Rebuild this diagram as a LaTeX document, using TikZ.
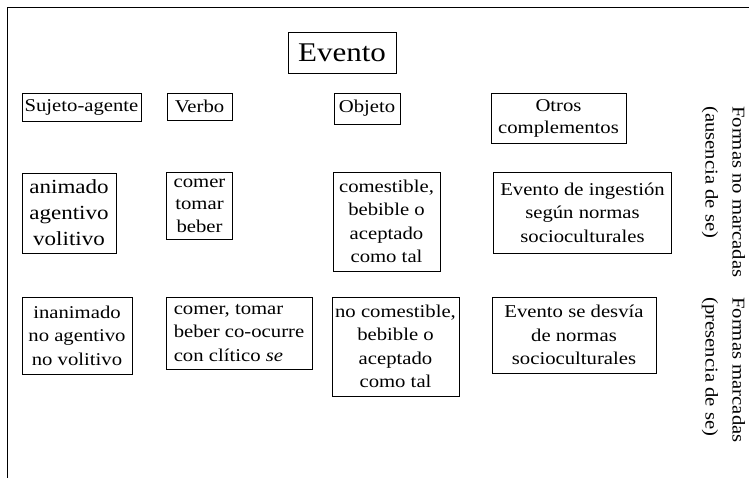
\documentclass[tikz,border=0pt]{standalone}
\usepackage{fontspec}
\setmainfont[FakeStretch=1.15]{Liberation Serif}
\begin{document}
\begin{tikzpicture}[x=1pt,y=1pt,
  box/.style={draw, line width=0.9pt, inner sep=0pt, align=center,
    font=\fontsize{18}{23.5}\selectfont},
  side/.style={inner sep=0pt, align=left, rotate=-90, anchor=west,
    font=\fontsize{18}{27}\selectfont}
]
\useasboundingbox (0,0) rectangle (749,478);
\draw[line width=0.9pt] (7,0) -- (7,471) -- (749,471);

\node[box, minimum width=108pt, minimum height=41pt, font=\fontsize{27}{30}\selectfont] (evento) at (342,425.5) {Evento};

\node[box, minimum width=119pt, minimum height=28pt] (sujeto) at (81.5,371) {Sujeto-agente};
\node[box, minimum width=65pt, minimum height=27pt] (verbo) at (199.5,371.5) {Verbo};
\node[box, minimum width=66pt, minimum height=31pt] (objeto) at (367,369.5) {Objeto};
\node[box, minimum width=135pt, minimum height=50pt, font=\fontsize{18}{22}\selectfont] (otros) at (558.5,360) {Otros\\complementos};

\node[box, minimum width=94pt, minimum height=80pt, font=\fontsize{20}{26}\selectfont] (animado) at (69,265) {animado\\agentivo\\volitivo};
\node[box, minimum width=66pt, minimum height=67pt, font=\fontsize{18}{22.5}\selectfont] (comer) at (199.5,272.5) {comer\\tomar\\beber};
\node[box, minimum width=107pt, minimum height=99pt] (comestible) at (386.5,256.5) {comestible,\\bebible o\\aceptado\\como tal};
\node[box, minimum width=178pt, minimum height=81pt] (ingestion) at (582.5,265.5) {Evento de ingestión\\según normas\\socioculturales};

\node[box, minimum width=110pt, minimum height=77pt] (inanimado) at (77,142.5) {inanimado\\no agentivo\\no volitivo};
\node[box, minimum width=146pt, minimum height=72pt, align=left] (comerse) at (239,145) {comer, tomar\\beber co-ocurre\\con clítico \textit{se}};
\node[box, minimum width=127pt, minimum height=99pt] (nocomestible) at (395.5,131.5) {no comestible,\\bebible o\\aceptado\\como tal};
\node[box, minimum width=164pt, minimum height=76pt] (desvia) at (574,143) {Evento se desvía\\de normas\\socioculturales};

\node[side] (nomarcadas) at (723.5,372) {Formas no marcadas\\(ausencia de se)};
\node[side] (marcadas) at (723.5,181) {Formas marcadas\\(presencia de se)};
\end{tikzpicture}
\end{document}
